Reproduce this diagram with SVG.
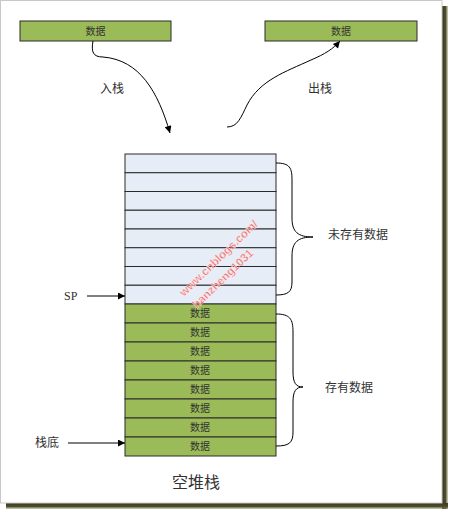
<svg xmlns="http://www.w3.org/2000/svg" width="454" height="518" viewBox="0 0 454 518">
<style>
text{font-family:"Liberation Serif","Noto Sans CJK SC",serif;fill:#333}
.g{fill:#9BBB59;stroke:#2a2a2a;stroke-width:1}
.b{fill:#E6EDF7;stroke:#2a2a2a;stroke-width:1}
.t10{font-size:10px;text-anchor:middle}
.lbl{font-size:12px}
.ln{fill:none;stroke:#000;stroke-width:1}
.wm{font-family:"Liberation Sans",sans-serif;font-size:11.5px;fill:#f26d6d;stroke:#fff;stroke-width:0.3;font-weight:bold}
</style>
<defs>
<marker id="ah" viewBox="0 0 10 10" refX="10" refY="5" markerWidth="9" markerHeight="7" orient="auto" markerUnits="userSpaceOnUse"><path d="M0,0L10,5L0,10z" fill="#000"/></marker>
<linearGradient id="sr" x1="0" x2="1" y1="0" y2="0"><stop offset="0" stop-color="#3a3a1c"/><stop offset="0.6" stop-color="#4e4e2c"/><stop offset="1" stop-color="#8a8a6a" stop-opacity="0.4"/></linearGradient>
<linearGradient id="sb" x1="0" x2="0" y1="0" y2="1"><stop offset="0" stop-color="#3a3a1c"/><stop offset="0.6" stop-color="#4e4e2c"/><stop offset="1" stop-color="#8a8a6a" stop-opacity="0.4"/></linearGradient>
</defs>
<rect width="454" height="518" fill="#fff"/>
<g id="frame">
<rect x="442" y="6" width="6" height="503" fill="url(#sr)"/>
<rect x="6" y="503" width="442" height="6" fill="url(#sb)"/>
<rect x="0.5" y="0.5" width="441.5" height="502.5" fill="#fff" stroke="#c8c8c8" stroke-width="1"/>
</g>
<g id="push-data">
<rect class="g" x="20" y="21" width="151" height="20"/>
<text class="t10" x="95.5" y="34.5">数据</text>
</g>
<g id="pop-data">
<rect class="g" x="265" y="21" width="152" height="20"/>
<text class="t10" x="341" y="34.5">数据</text>
</g>
<g id="stack">
<rect class="b" x="125" y="154" width="151" height="18.75"/>
<rect class="b" x="125" y="172.75" width="151" height="18.75"/>
<rect class="b" x="125" y="191.5" width="151" height="18.75"/>
<rect class="b" x="125" y="210.25" width="151" height="18.75"/>
<rect class="b" x="125" y="229" width="151" height="18.75"/>
<rect class="b" x="125" y="247.75" width="151" height="18.75"/>
<rect class="b" x="125" y="266.5" width="151" height="18.75"/>
<rect class="b" x="125" y="285.25" width="151" height="18.75"/>
<rect class="g" x="125" y="304" width="151" height="19"/>
<rect class="g" x="125" y="323" width="151" height="19"/>
<rect class="g" x="125" y="342" width="151" height="19"/>
<rect class="g" x="125" y="361" width="151" height="19"/>
<rect class="g" x="125" y="380" width="151" height="19"/>
<rect class="g" x="125" y="399" width="151" height="19"/>
<rect class="g" x="125" y="418" width="151" height="19"/>
<rect class="g" x="125" y="437" width="151" height="19"/>
<text class="t10" x="200" y="317">数据</text>
<text class="t10" x="200" y="336">数据</text>
<text class="t10" x="200" y="355">数据</text>
<text class="t10" x="200" y="374">数据</text>
<text class="t10" x="200" y="393">数据</text>
<text class="t10" x="200" y="412">数据</text>
<text class="t10" x="200" y="431">数据</text>
<text class="t10" x="200" y="450">数据</text>
</g>
<g id="watermark">
<text class="wm" transform="translate(184,297) rotate(-44)">www.cnblogs.com/</text>
<text class="wm" transform="translate(197,309) rotate(-44)">hanzheng1031</text>
</g>
<g id="labels">
<text class="lbl" x="100" y="93">入栈</text>
<text class="lbl" x="308" y="93">出栈</text>
<text class="lbl" x="64" y="300">SP</text>
<text class="lbl" x="35" y="447">栈底</text>
<text class="lbl" x="328" y="239">未存有数据</text>
<text class="lbl" x="325" y="392">存有数据</text>
<text x="172" y="488" style="font-size:16px">空堆栈</text>
</g>
<g id="connectors">
<path class="ln" d="M93,41 C91,52 93,57 103,57 C140,60 158,92 170,133" marker-end="url(#ah)"/>
<path class="ln" d="M227,127 C238,127 241,117 247,105 C260,80 285,72 311,60 C325,54 333,49 340,41" marker-end="url(#ah)"/>
<line class="ln" x1="87" y1="296" x2="125" y2="296" marker-end="url(#ah)"/>
<line class="ln" x1="68" y1="443" x2="125" y2="443" marker-end="url(#ah)"/>
<path class="ln" d="M276,163 C290,163 292,168 292,180 L292,218 C292,232 298,237 313,237 C298,237 292,242 292,256 L292,282 C292,292 288,295 276,295"/>
<path class="ln" d="M276,314 C290,314 293,319 293,332 L293,372 C293,383 296,387 303,387 C296,387 293,391 293,402 L293,432 C293,443 289,446 276,446"/>
</g>
</svg>
